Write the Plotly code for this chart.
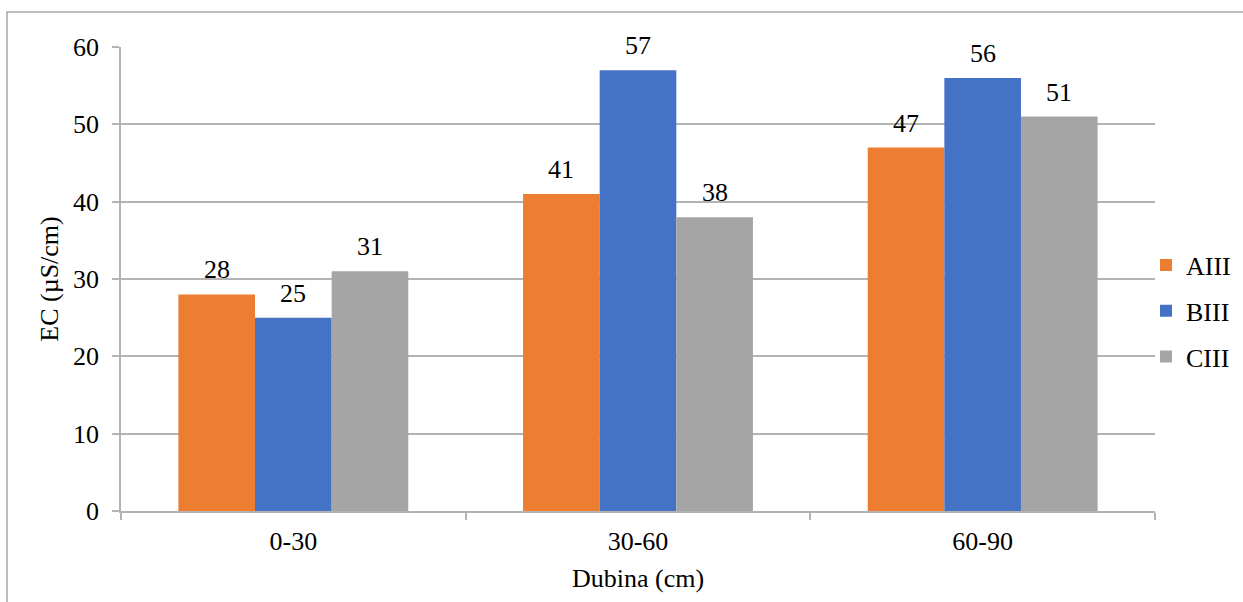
import plotly.graph_objects as go

# Depth intervals and EC values per profile
depths = ["0-30", "30-60", "60-90"]
aiii = [28, 41, 47]
biii = [25, 57, 56]
ciii = [31, 38, 51]

series = [("AIII", aiii, "#ED7D31"), ("BIII", biii, "#4472C4"), ("CIII", ciii, "#A5A5A5")]

FONT = "Liberation Serif"
FS = 26
GRID = "#b3b3b3"
BARGAP = 0.333

fig = go.Figure()
for name, vals, color in series:
    fig.add_trace(go.Bar(
        x=depths, y=vals, name=name, legendgroup=name,
        marker=dict(color=color, line=dict(width=0)), offsetgroup=name,
    ))

# Value labels above each bar
n = len(series)
for i, (name, vals, color) in enumerate(series):
    for j, v in enumerate(vals):
        fig.add_annotation(
            x=j + (i - (n - 1) / 2) * (1 - BARGAP) / n, y=v, xref="x", yref="y",
            text=str(v), showarrow=False, yanchor="bottom", yshift=8,
            font=dict(family=FONT, size=FS, color="#000000"),
        )

# Outer frame around the chart
W, H = 1243, 602
L, R, T, B = 121, 88, 47, 91
pw, ph = W - L - R, H - T - B
fig.add_shape(
    type="rect", xref="paper", yref="paper", layer="below",
    x0=(7 - L) / pw, x1=(W + 30 - L) / pw,
    y0=-(B + 30) / ph, y1=(H - B - 12) / ph,
    line=dict(color="#a6a6a6", width=1.5), fillcolor="rgba(0,0,0,0)",
)

fig.update_layout(
    width=W, height=H,
    margin=dict(l=L, r=R, t=T, b=B, autoexpand=False),
    paper_bgcolor="white", plot_bgcolor="white",
    barmode="group", bargap=BARGAP, bargroupgap=0,
    font=dict(family=FONT, size=FS, color="#000000"),
    showlegend=True,
    legend=dict(
        x=(1146 - L) / pw, xanchor="left", y=(H - B - 311) / ph, yanchor="middle",
        font=dict(family=FONT, size=FS), itemwidth=30,
        traceorder="grouped", tracegroupgap=9,
        bgcolor="rgba(0,0,0,0)",
    ),
    xaxis=dict(
        type="category", showgrid=False, showline=True, linecolor=GRID, linewidth=1.5,
        ticks="outside", tickson="boundaries", ticklen=7, tickcolor=GRID, tickwidth=1.5,
        ticklabelstandoff=6,
        title=dict(text="Dubina (cm)", standoff=14, font=dict(family=FONT, size=FS)),
        tickfont=dict(family=FONT, size=FS),
    ),
    yaxis=dict(
        range=[0, 60], dtick=10, showgrid=True, gridcolor=GRID, gridwidth=1.5,
        showline=True, linecolor=GRID, linewidth=1.5,
        ticks="outside", ticklen=7, tickcolor=GRID, tickwidth=1.5,
        ticklabelstandoff=8, zeroline=False,
        title=dict(text="EC (µS/cm)", standoff=7, font=dict(family=FONT, size=FS)),
        tickfont=dict(family=FONT, size=FS),
    ),
)

fig.write_html("out.html")
